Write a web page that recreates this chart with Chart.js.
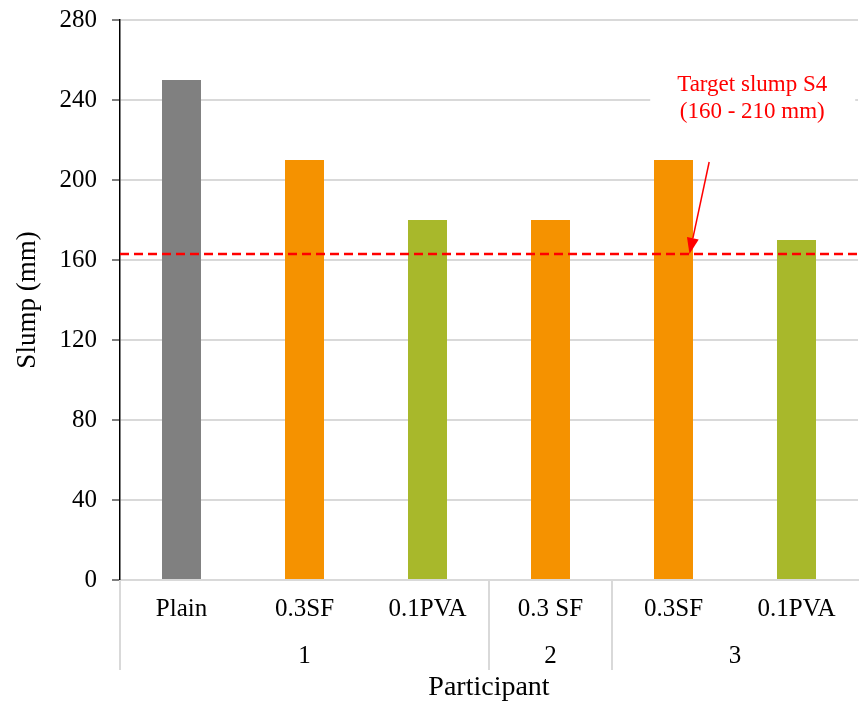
<!DOCTYPE html>
<html>
<head>
<meta charset="utf-8">
<script src="https://cdn.jsdelivr.net/npm/chart.js@4"></script>
<style>
  html, body { margin: 0; padding: 0; background: #ffffff; }
  #wrap { width: 859px; height: 706px; }
</style>
</head>
<body>
<div id="wrap"><canvas id="c" width="859" height="706"></canvas></div>
<script>
// Mix designs and measured slump values
const mixes = ['Plain', '0.3SF', '0.1PVA', '0.3 SF', '0.3SF', '0.1PVA'];
const slump = [250, 210, 180, 180, 210, 170];
const barColors = ['#808080', '#F59200', '#A8B82B', '#F59200', '#F59200', '#A8B82B'];

// Participant groups along the lower axis row
const participants = ['1', '2', '3'];
const participantSpan = [3, 1, 2];

// Y axis ticks and target slump reference
const yTicks = [0, 40, 80, 120, 160, 200, 240, 280];
const targetSlump = 163;
const targetLabel = ['Target slump S4', '(160 - 210 mm)'];

const SERIF = '"Liberation Serif", "Times New Roman", serif';

const groupAxisPlugin = {
  id: 'groupAxis',
  afterDraw(chart) {
    const ctx = chart.ctx;
    const x = chart.scales.x;
    const area = chart.chartArea;
    const step = x.getPixelForValue(1) - x.getPixelForValue(0);
    ctx.save();
    // separators between participant groups
    ctx.strokeStyle = '#d9d9d9';
    ctx.lineWidth = 2;
    let idx = 0;
    const bounds = [0];
    participantSpan.forEach(s => { idx += s; bounds.push(idx); });
    bounds.slice(0, -1).forEach(b => {
      const px = Math.round(x.getPixelForValue(b) - step / 2);
      ctx.beginPath();
      ctx.moveTo(px, area.bottom);
      ctx.lineTo(px, area.bottom + 90);
      ctx.stroke();
    });
    // participant numbers
    ctx.fillStyle = '#000';
    ctx.font = '25px ' + SERIF;
    ctx.textAlign = 'center';
    ctx.textBaseline = 'middle';
    for (let g = 0; g < participants.length; g++) {
      const a = x.getPixelForValue(bounds[g]) - step / 2;
      const b = x.getPixelForValue(bounds[g + 1]) - step / 2;
      ctx.fillText(participants[g], (a + b) / 2, area.bottom + 76);
    }
    ctx.restore();
  }
};

const targetPlugin = {
  id: 'target',
  afterDatasetsDraw(chart) {
    const ctx = chart.ctx;
    const x = chart.scales.x;
    const y = chart.scales.y;
    const area = chart.chartArea;
    const yLine = y.getPixelForValue(targetSlump);
    ctx.save();
    // dashed target line
    ctx.strokeStyle = '#FF0000';
    ctx.lineWidth = 2.5;
    ctx.setLineDash([9, 5]);
    ctx.beginPath();
    ctx.moveTo(area.left, yLine);
    ctx.lineTo(area.right, yLine);
    ctx.stroke();
    ctx.setLineDash([]);

    // label with white backing
    const cx = x.getPixelForValue(4.64);
    const ty = y.getPixelForValue(236);
    ctx.fillStyle = '#ffffff';
    ctx.fillRect(cx - 102, ty - 38, 205, 58);
    ctx.fillStyle = '#FF0000';
    ctx.font = '23px ' + SERIF;
    ctx.textAlign = 'center';
    ctx.textBaseline = 'middle';
    ctx.fillText(targetLabel[0], cx, ty - 23);
    ctx.fillText(targetLabel[1], cx, ty + 4);

    // arrow pointing at the line
    const x0 = x.getPixelForValue(4.29), y0 = y.getPixelForValue(209);
    const x1 = x.getPixelForValue(4.13), y1 = yLine;
    const ang = Math.atan2(y1 - y0, x1 - x0);
    const head = 16, hw = 6;
    ctx.strokeStyle = '#FF0000';
    ctx.lineWidth = 1.5;
    ctx.beginPath();
    ctx.moveTo(x0, y0);
    ctx.lineTo(x1 - head * Math.cos(ang), y1 - head * Math.sin(ang));
    ctx.stroke();
    ctx.beginPath();
    ctx.moveTo(x1, y1);
    ctx.lineTo(x1 - head * Math.cos(ang) + hw * Math.sin(ang), y1 - head * Math.sin(ang) - hw * Math.cos(ang));
    ctx.lineTo(x1 - head * Math.cos(ang) - hw * Math.sin(ang), y1 - head * Math.sin(ang) + hw * Math.cos(ang));
    ctx.closePath();
    ctx.fill();
    ctx.restore();
  }
};

new Chart(document.getElementById('c'), {
  type: 'bar',
  data: {
    labels: mixes,
    datasets: [{
      data: slump,
      backgroundColor: barColors,
      borderWidth: 0,
      barPercentage: 0.317,
      categoryPercentage: 1.0
    }]
  },
  options: {
    responsive: false,
    devicePixelRatio: 1,
    animation: false,
    layout: { padding: { top: 20, right: 1, left: 0, bottom: 0 } },
    plugins: { legend: { display: false }, tooltip: { enabled: false } },
    scales: {
      x: {
        grid: { display: false, drawTicks: false },
        border: { display: true, color: '#d9d9d9', width: 2 },
        ticks: {
          color: '#000',
          font: { family: SERIF, size: 25 },
          padding: 14,
          maxRotation: 0,
          autoSkip: false
        },
        title: {
          display: true,
          text: 'Participant',
          color: '#000',
          font: { family: SERIF, size: 28 },
          padding: { top: 0, bottom: 2 }
        },
        afterFit(scale) { scale.height = 126; }
      },
      y: {
        min: 0,
        max: 280,
        afterBuildTicks(scale) { scale.ticks = yTicks.map(v => ({ value: v })); },
        grid: { color: '#d9d9d9', lineWidth: 2, tickLength: 8, tickColor: '#7f7f7f', tickWidth: 2 },
        border: { display: true, color: '#000', width: 1.5 },
        ticks: {
          color: '#000',
          font: { family: SERIF, size: 25 },
          padding: 15
        },
        title: {
          display: true,
          text: 'Slump (mm)',
          color: '#000',
          font: { family: SERIF, size: 27 },
          padding: { top: 12, bottom: 0 }
        },
        afterFit(scale) {
          scale.width = 120;
          scale.paddingTop = 0;
          scale.paddingBottom = 0;
        }
      }
    }
  },
  plugins: [groupAxisPlugin, targetPlugin]
});
</script>
</body>
</html>
